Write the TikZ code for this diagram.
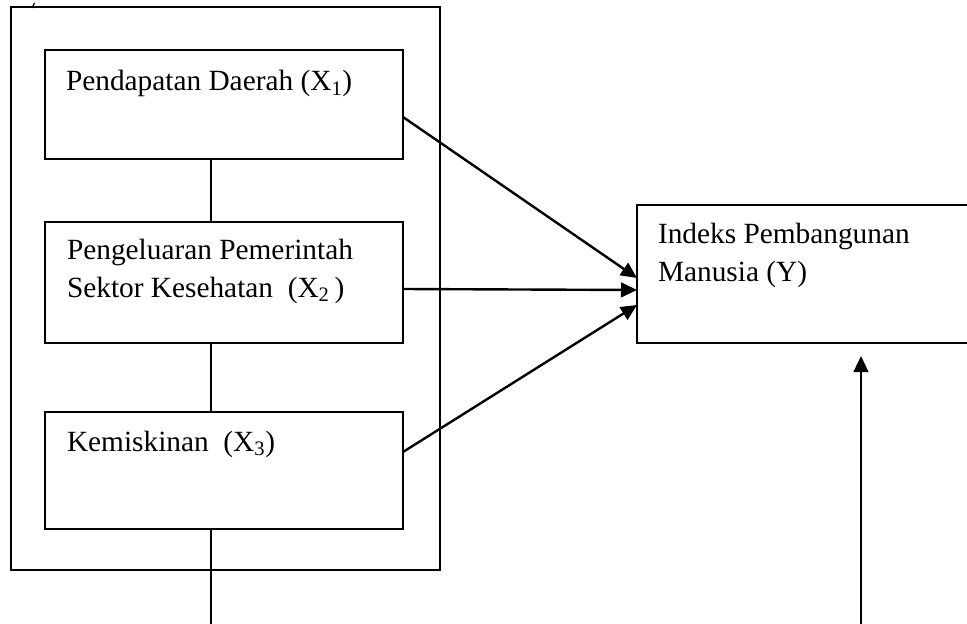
\documentclass[tikz,border=0pt]{standalone}
\usepackage{fontspec}
\setmainfont{Liberation Serif}
\usetikzlibrary{arrows.meta,calc}
\begin{document}
\begin{tikzpicture}[x=0.75pt,y=-0.75pt,
  box/.style={draw,line width=1.7pt,inner sep=0pt,outer sep=0pt,rectangle},
  lbl/.style={anchor=base west,inner sep=0pt,outer sep=0pt,font=\fontsize{22}{26}\selectfont},
  conn/.style={line width=1.7pt},
  arr/.style={line width=1.8pt,-{Triangle[length=12pt,width=11pt]}}]
\useasboundingbox (0,0) rectangle (967,624);
\clip (0,0) rectangle (967,624);
% outer frame
\node[box,minimum width=321.75pt,minimum height=422.25pt] (outer) at (225.5,288.5) {};
\draw[line width=1pt] (32,8) -- (34.5,3);
% inner boxes
\node[box,minimum width=268.5pt,minimum height=81.75pt] (b1) at (224,104.5) {};
\node[box,minimum width=268.5pt,minimum height=90.75pt] (b2) at (224,282.5) {};
\node[box,minimum width=268.5pt,minimum height=87.75pt] (b3) at (224,470.5) {};
\node[box,minimum width=261pt,minimum height=103.5pt] (y) at (811,274) {};
% labels
\node[lbl] (t1) at (66,91) {Pendapatan Daerah (X\textsubscript{1})};
\node[lbl] (t2a) at (67,259) {Pengeluaran Pemerintah};
\node[lbl] (t2b) at (67,297) {Sektor Kesehatan\ \ (X\textsubscript{2}\,)};
\node[lbl] (t3) at (67,451) {Kemiskinan\ \ (X\textsubscript{3})};
\node[lbl] (ty1) at (658,243) {Indeks Pembangunan};
\node[lbl] (ty2) at (658,281) {Manusia (Y)};
% connectors
\coordinate (lx) at (211,0);
\coordinate (bot1) at (211,624);
\coordinate (bot2) at (861,624);
\draw[conn] (b1.south -| lx) -- (b2.north -| lx);
\draw[conn] (b2.south -| lx) -- (b3.north -| lx);
\draw[conn] (b3.south -| lx) -- (bot1);
\draw[arr] ($(b1.north east)+(0,67)$) -- ($(y.north west)+(0,73)$);
\draw[arr] ($(b2.north east)+(0,67)$) -- ($(y.north west)+(0,85)$);
\draw[arr] ($(b3.north east)+(0,40)$) -- ($(y.north west)+(0,100)$);
\draw[arr,shorten >=9.75pt] (bot2) -- (y.south -| bot2);
\end{tikzpicture}
\end{document}
